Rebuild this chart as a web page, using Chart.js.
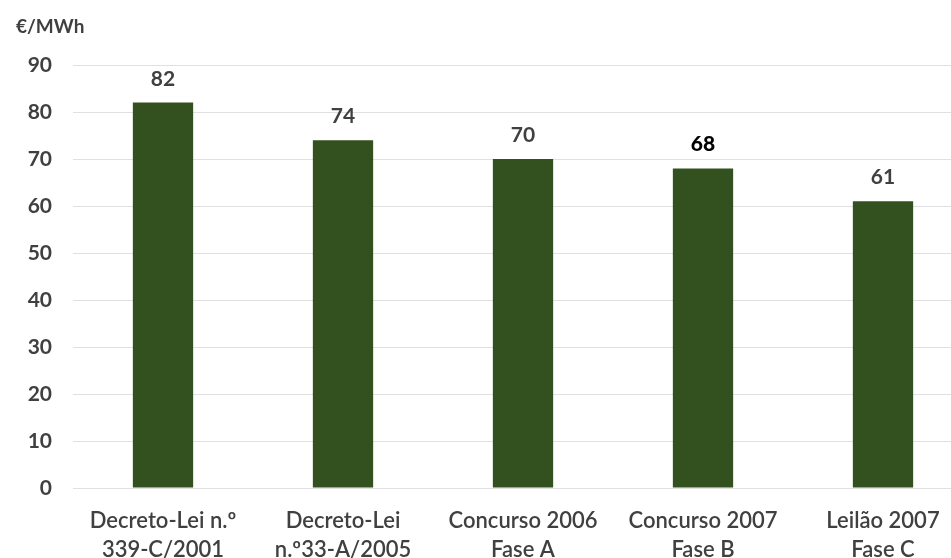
<!DOCTYPE html>
<html>
<head>
<meta charset="utf-8">
<script src="https://cdn.jsdelivr.net/npm/chart.js@4/dist/chart.umd.min.js"></script>
<style>
  html, body { margin: 0; padding: 0; background: #fff; overflow: hidden; }
  #wrap { position: relative; width: 973px; height: 558px; }
</style>
</head>
<body>
<div id="wrap"><canvas id="c"></canvas></div>
<script>
// Tariffs by legal framework / tender, in €/MWh
const categories = [
  ['Decreto-Lei n.º', '339-C/2001'],
  ['Decreto-Lei', 'n.º33-A/2005'],
  ['Concurso 2006', 'Fase A'],
  ['Concurso 2007', 'Fase B'],
  ['Leilão 2007', 'Fase C']
];
const tariffs = [82, 74, 70, 68, 61];
const unitLabel = '€/MWh';
const yMax = 90;
const yStep = 10;

const FONT = 'Lato, "Open Sans", sans-serif';
const TEXT = '#404040';

// value labels above each bar
const valueLabels = {
  id: 'valueLabels',
  afterDatasetsDraw(chart) {
    const ctx = chart.ctx;
    const meta = chart.getDatasetMeta(0);
    ctx.save();
    ctx.textAlign = 'center';
    ctx.textBaseline = 'alphabetic';
    meta.data.forEach((bar, i) => {
      const v = chart.data.datasets[0].data[i];
      const strong = i === 3;
      ctx.font = (strong ? '900 ' : '700 ') + '21px ' + FONT;
      ctx.fillStyle = strong ? '#000' : TEXT;
      ctx.fillText(String(v), bar.x, bar.y - 17);
    });
    ctx.restore();
  }
};

// unit caption in the top-left corner
const unitCaption = {
  id: 'unitCaption',
  afterDraw(chart) {
    const ctx = chart.ctx;
    ctx.save();
    ctx.font = '700 19px ' + FONT;
    ctx.fillStyle = TEXT;
    ctx.textAlign = 'left';
    ctx.textBaseline = 'alphabetic';
    ctx.fillText(unitLabel, 16, 33);
    ctx.restore();
  }
};

new Chart(document.getElementById('c'), {
  type: 'bar',
  data: {
    labels: categories,
    datasets: [{
      data: tariffs,
      backgroundColor: '#32511f',
      borderWidth: 0,
      barPercentage: 0.67,
      categoryPercentage: 0.5
    }]
  },
  options: {
    responsive: true,
    maintainAspectRatio: false,
    animation: false,
    layout: { padding: { top: 65, right: 0, bottom: 0, left: 0 } },
    plugins: {
      legend: { display: false },
      tooltip: { enabled: false }
    },
    scales: {
      x: {
        grid: { display: false, drawTicks: false },
        border: { display: false },
        ticks: {
          color: TEXT,
          font: { family: FONT, size: 22, weight: '600', lineHeight: 1.32 },
          padding: 18,
          maxRotation: 0,
          autoSkip: false
        },
        afterFit(scale) { scale.height = 70; }
      },
      y: {
        min: 0,
        max: yMax,
        grid: { color: '#e0e0e0', lineWidth: 1, drawTicks: false },
        border: { display: false },
        ticks: {
          stepSize: yStep,
          color: TEXT,
          font: { family: FONT, size: 21, weight: '700' },
          padding: 21
        },
        afterFit(scale) { scale.width = 73; }
      }
    }
  },
  plugins: [valueLabels, unitCaption]
});
</script>
</body>
</html>
